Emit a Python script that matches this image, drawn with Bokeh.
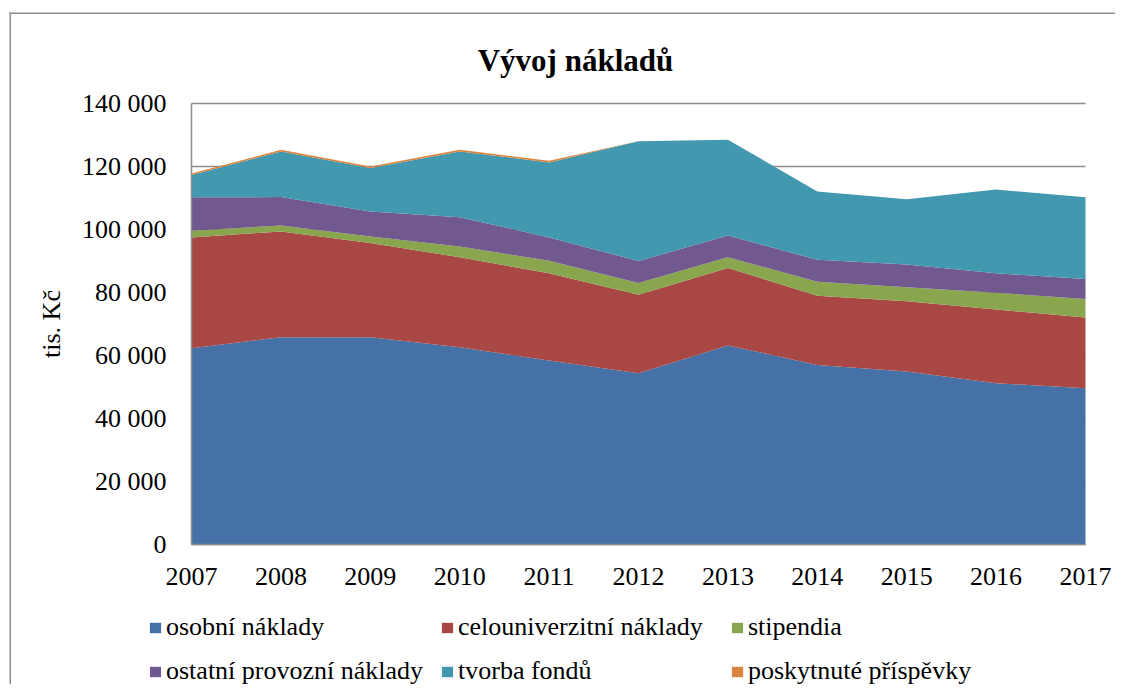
from bokeh.plotting import figure
from bokeh.models import Range1d, FixedTicker, Legend, LegendItem, Label, BoxAnnotation
from bokeh.embed import file_html
from bokeh.resources import INLINE

years = [2007, 2008, 2009, 2010, 2011, 2012, 2013, 2014, 2015, 2016, 2017]
osobni = [62300, 65800, 65800, 62600, 58400, 54400, 63200, 57000, 54900, 51200, 49600]
celouniverzitni = [35200, 33600, 29900, 28600, 27700, 24900, 24600, 22000, 22300, 23400, 22500]
stipendia = [2100, 1900, 2100, 3400, 4000, 3700, 3400, 4400, 4500, 5300, 5800]
ostatni = [10600, 9000, 7900, 9300, 7400, 7000, 6900, 7000, 7200, 6200, 6400]
fondy = [7100, 14500, 13800, 20900, 23800, 38000, 30400, 21700, 20700, 26600, 25900]
prispevky = [500, 500, 500, 500, 500, 0, 0, 0, 0, 0, 0]

series_names = ["osobní náklady", "celouniverzitní náklady", "stipendia",
                "ostatní provozní náklady", "tvorba fondů", "poskytnuté příspěvky"]
colors = ["#4571A6", "#A94744", "#89A54E", "#71588F", "#4198AF", "#DB843D"]
y_ticks = [0, 20000, 40000, 60000, 80000, 100000, 120000, 140000]
title_text = "Vývoj nákladů"
y_label = "tis. Kč"

keys = ["s0", "s1", "s2", "s3", "s4", "s5"]
data = dict(x=years, s0=osobni, s1=celouniverzitni, s2=stipendia,
            s3=ostatni, s4=fondy, s5=prispevky)

FONT = "Liberation Serif"
GRAY = "#8c8c8c"

# canvas and plot-area geometry (pixels)
W, H = 1115, 684
PX_L, PX_R, PX_T, PX_B = 191, 1085, 103, 544
x0, x1 = years[0], years[-1]
v0, v1 = y_ticks[0], y_ticks[-1]
ppx = (PX_R - PX_L) / (x1 - x0)
ppy = (PX_B - PX_T) / (v1 - v0)
xr = Range1d(x0 - PX_L / ppx, x1 + (W - PX_R) / ppx)
yr = Range1d(v0 - (H - PX_B) / ppy, v1 + PX_T / ppy)

p = figure(width=W, height=H, output_backend="svg", toolbar_location=None,
           x_range=xr, y_range=yr, title=None,
           min_border_left=0, min_border_right=0, min_border_top=0,
           min_border_bottom=0)
p.outline_line_color = None
p.background_fill_color = "white"
p.border_fill_color = "white"

rs = p.varea_stack(stackers=keys, x="x", color=colors, source=data)

# axes placed at the plot-area edges
p.xaxis.fixed_location = v0
p.xaxis.bounds = (x0, x1)
p.yaxis.fixed_location = x0
p.yaxis.bounds = (v0, v1)
p.xaxis.ticker = FixedTicker(ticks=years)
p.yaxis.ticker = FixedTicker(ticks=y_ticks)
p.yaxis.major_label_overrides = {v: f"{v:,}".replace(",", " ") for v in y_ticks}
for ax in (p.xaxis[0], p.yaxis[0]):
    ax.major_label_text_font = FONT
    ax.major_label_text_font_size = "26px"
    ax.major_label_text_color = "black"
    ax.major_tick_in = 0
    ax.major_tick_out = 0
    ax.minor_tick_in = 0
    ax.minor_tick_out = 0
    ax.axis_line_color = GRAY
    ax.axis_line_width = 1.5
p.xaxis.major_label_standoff = 23
p.yaxis.major_label_standoff = 25
p.yaxis.axis_label = y_label
p.yaxis.axis_label_text_font = FONT
p.yaxis.axis_label_text_font_size = "26px"
p.yaxis.axis_label_text_font_style = "normal"
p.yaxis.axis_label_text_color = "black"
p.yaxis.axis_label_standoff = 13

p.xgrid.grid_line_color = None
p.ygrid.grid_line_color = GRAY
p.ygrid.grid_line_width = 1.5
p.ygrid.bounds = (v0, v1)
p.ygrid.cross_bounds = (x0, x1)

# title
p.add_layout(Label(x=575, y=H - 60, x_units="screen", y_units="screen",
                   text=title_text, text_font=FONT, text_font_size="31px",
                   text_font_style="bold", text_align="center",
                   text_baseline="alphabetic", text_color="black"))

# chart-area border: only its left and top edges fall inside the picture
bx = xr.start + 9 / ppx
by = yr.end - 12 / ppy
p.add_layout(BoxAnnotation(left=bx, right=bx + 1.5 / ppx, top=by, bottom=None,
                           fill_color=GRAY, fill_alpha=1, line_color=None))
p.add_layout(BoxAnnotation(left=bx, right=None, top=by, bottom=by - 1.5 / ppy,
                           fill_color=GRAY, fill_alpha=1, line_color=None))

# legend: 2 rows x 3 columns below the plot area
col_x = [148, 440, 730]
row_y = [H - 642, H - 686]
for i, (name, r) in enumerate(zip(series_names, rs)):
    row, col = divmod(i, 3)
    lg = Legend(items=[LegendItem(label=name, renderers=[r])],
                location=(col_x[col], row_y[row]),
                label_text_font=FONT, label_text_font_size="26px",
                label_text_color="black", glyph_width=14, glyph_height=13,
                label_height=30, label_standoff=4, padding=0, margin=0, spacing=0,
                border_line_color=None, background_fill_alpha=0)
    p.add_layout(lg, "center")

open("out.html", "w").write(file_html(p, INLINE))
